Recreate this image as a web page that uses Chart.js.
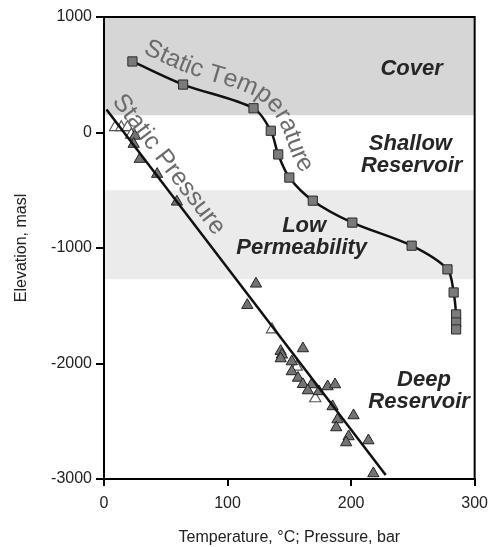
<!DOCTYPE html>
<html>
<head>
<meta charset="utf-8">
<script src="https://cdn.jsdelivr.net/npm/chart.js@4.4.0/dist/chart.umd.min.js"></script>
<style>
  html, body { margin: 0; padding: 0; background: #fff; }
  #wrap { width: 496px; height: 547px; }
</style>
</head>
<body>
<div id="wrap"><canvas id="c" width="496" height="547"></canvas></div>
<script>
// Température statique (carrés)
const tempX = [23, 64, 121, 135, 141, 150, 169, 201, 249, 278, 283, 285, 285, 285];
const tempY = [615, 415, 210, 15, -190, -390, -590, -780, -980, -1185, -1385, -1575, -1645, -1705];

// Pression statique (triangles gris)
const presX = [25, 24, 29, 43, 59, 123, 116, 161, 143, 144, 143, 152, 152, 157, 161, 168, 165, 174, 181, 187, 185, 202, 189, 188, 198, 196, 214, 218];
const presY = [-30, -100, -230, -360, -600, -1310, -1495, -1870, -1893, -1925, -1957, -1983, -2069, -2125, -2180, -2182, -2234, -2242, -2199, -2182, -2372, -2450, -2485, -2554, -2632, -2684, -2667, -2952];

// Pression (triangles blancs)
const presOpenX = [9, 14, 19, 22, 136, 171, 156];
const presOpenY = [45, 45, 45, -20, -1706, -2303, -2030];

// Droite de pression
const presLineX = [2, 228];
const presLineY = [200, -2965];

// Zones
const zoneTop = [1000, -500];
const zoneBottom = [150, -1270];
const zoneColors = ['#d6d6d6', '#ebebeb'];

const xTicks = [0, 100, 200, 300];
const yTicks = [-3000, -2000, -1000, 0, 1000];

const FONT = "'Liberation Sans', Arial, Helvetica, sans-serif";
const EXT = 40; // prolongement du chemin avant le premier point (px)
const STEP = 2; // pas de rééchantillonnage (px)

const toPts = (xs, ys) => xs.map((x, i) => ({ x: x, y: ys[i] }));

// Échantillonner la courbe de Chart.js (points + points de contrôle)
function curvePoints(meta) {
  const d = meta.data;
  const out = [{ x: d[0].x, y: d[0].y }];
  for (let i = 0; i < d.length - 1; i++) {
    const a = d[i], b = d[i + 1];
    const c1x = a.cp2x ?? a.x, c1y = a.cp2y ?? a.y;
    const c2x = b.cp1x ?? b.x, c2y = b.cp1y ?? b.y;
    for (let k = 1; k <= 16; k++) {
      const t = k / 16, u = 1 - t;
      out.push({
        x: u * u * u * a.x + 3 * u * u * t * c1x + 3 * u * t * t * c2x + t * t * t * b.x,
        y: u * u * u * a.y + 3 * u * u * t * c1y + 3 * u * t * t * c2y + t * t * t * b.y
      });
    }
  }
  // prolonger vers l'arrière
  const p0 = out[0], p1 = out[1];
  const L = Math.hypot(p1.x - p0.x, p1.y - p0.y) || 1;
  const dx = (p1.x - p0.x) / L, dy = (p1.y - p0.y) / L;
  return resample([{ x: p0.x - dx * EXT, y: p0.y - dy * EXT }].concat(out));
}

// Points régulièrement espacés le long d'une polyligne
function resample(pts) {
  const out = [pts[0]];
  let carry = 0;
  for (let i = 1; i < pts.length; i++) {
    const a = pts[i - 1], b = pts[i];
    const L = Math.hypot(b.x - a.x, b.y - a.y);
    let s = STEP - carry;
    while (s <= L) {
      out.push({ x: a.x + (b.x - a.x) * s / L, y: a.y + (b.y - a.y) * s / L });
      s += STEP;
    }
    carry = L - (s - STEP);
  }
  return out;
}

// Décaler un chemin du côté haut/droite, puis le lisser
function offsetPath(pts, offset, k) {
  const n = pts.length;
  const off = pts.map((p, i) => {
    const a = pts[Math.max(0, i - k)], b = pts[Math.min(n - 1, i + k)];
    const ang = Math.atan2(b.y - a.y, b.x - a.x);
    return { x: p.x + Math.sin(ang) * offset, y: p.y - Math.cos(ang) * offset };
  });
  return off.map((p, i) => {
    const r = Math.min(k, i, n - 1 - i);
    let sx = 0, sy = 0, c = 0;
    for (let j = i - r; j <= i + r; j++) { sx += off[j].x; sy += off[j].y; c++; }
    return { x: sx / c, y: sy / c };
  });
}

// Texte le long d'un chemin (polyligne en pixels)
function textOnPath(ctx, pts, text, start, win) {
  const cum = [0];
  for (let i = 1; i < pts.length; i++) {
    cum.push(cum[i - 1] + Math.hypot(pts[i].x - pts[i - 1].x, pts[i].y - pts[i - 1].y));
  }
  const at = s => {
    let i = 1;
    while (i < pts.length - 1 && cum[i] < s) i++;
    const a = pts[i - 1], b = pts[i];
    const t = (s - cum[i - 1]) / (cum[i] - cum[i - 1] || 1);
    return { x: a.x + (b.x - a.x) * t, y: a.y + (b.y - a.y) * t };
  };
  let s = start;
  for (const ch of text) {
    const w = ctx.measureText(ch).width;
    const c = s + w / 2;
    const p0 = at(c - win), p1 = at(c + win);
    const ang = Math.atan2(p1.y - p0.y, p1.x - p0.x);
    const p = at(c);
    ctx.save();
    ctx.translate(p.x, p.y);
    ctx.rotate(ang);
    ctx.textAlign = 'center';
    ctx.textBaseline = 'alphabetic';
    ctx.fillText(ch, 0, 0);
    ctx.restore();
    s += w;
  }
}

const bandsPlugin = {
  id: 'bands',
  beforeDraw(chart) {
    const { ctx, chartArea: a, scales: { y } } = chart;
    ctx.save();
    ctx.fillStyle = '#fff';
    ctx.fillRect(0, 0, chart.width, chart.height);
    zoneTop.forEach((top, i) => {
      const y0 = y.getPixelForValue(top);
      const y1 = y.getPixelForValue(zoneBottom[i]);
      ctx.fillStyle = zoneColors[i];
      ctx.fillRect(a.left, y0, a.right - a.left, y1 - y0);
    });
    ctx.restore();
  },
  afterDraw(chart) {
    const { ctx, chartArea: a } = chart;
    ctx.save();
    ctx.strokeStyle = '#000';
    ctx.lineWidth = 2;
    ctx.beginPath();
    ctx.moveTo(a.left, a.top);
    ctx.lineTo(a.right, a.top);
    ctx.lineTo(a.right, a.bottom);
    ctx.stroke();
    ctx.restore();
  }
};

const labelsPlugin = {
  id: 'labels',
  afterDatasetsDraw(chart) {
    const { ctx, scales: { x, y } } = chart;
    ctx.save();
    // zones
    ctx.fillStyle = '#262626';
    ctx.font = "italic bold 22px " + FONT;
    ctx.textAlign = 'center';
    ctx.textBaseline = 'middle';
    const zl = [
      ['Cover', 249, 554],
      ['Shallow', 248, -95],
      ['Reservoir', 249, -286],
      ['Low', 162, -805],
      ['Permeability', 160, -996],
      ['Deep', 259, -2139],
      ['Reservoir', 255, -2329]
    ];
    zl.forEach(([t, vx, vy]) => ctx.fillText(t, x.getPixelForValue(vx), y.getPixelForValue(vy)));

    // textes courbes
    ctx.fillStyle = '#6b6b6b';
    ctx.font = "25px " + FONT;
    const tPath = offsetPath(curvePoints(chart.getDatasetMeta(0)), 12, 8);
    textOnPath(ctx, tPath, 'Static Temperature', EXT + 6, 10);
    const pPath = offsetPath(curvePoints(chart.getDatasetMeta(3)), 9, 8);
    textOnPath(ctx, pPath, 'Static Pressure', EXT - 3, 10);
    ctx.restore();
  }
};

const tickFont = { family: FONT, size: 16 };

new Chart(document.getElementById('c'), {
  type: 'scatter',
  data: {
    datasets: [
      {
        label: 'Static Temperature',
        data: toPts(tempX, tempY),
        showLine: true,
        tension: 0.3,
        borderColor: '#111',
        borderWidth: 2.5,
        pointStyle: 'rect',
        pointRadius: 6.5,
        pointBackgroundColor: '#7a7a7a',
        pointBorderColor: '#2a2a2a',
        pointBorderWidth: 1,
        order: 1
      },
      {
        label: 'Pressure',
        data: toPts(presX, presY),
        pointStyle: 'triangle',
        pointRadius: 6.5,
        pointBackgroundColor: '#737373',
        pointBorderColor: '#222',
        pointBorderWidth: 1,
        order: 3
      },
      {
        label: 'Pressure (open)',
        data: toPts(presOpenX, presOpenY),
        pointStyle: 'triangle',
        pointRadius: 6.5,
        pointBackgroundColor: '#fff',
        pointBorderColor: '#555',
        pointBorderWidth: 1.2,
        order: 4
      },
      {
        label: 'Static Pressure',
        data: toPts(presLineX, presLineY),
        showLine: true,
        borderColor: '#111',
        borderWidth: 2.5,
        pointRadius: 0,
        order: 2
      }
    ]
  },
  options: {
    responsive: false,
    animation: false,
    devicePixelRatio: 1,
    layout: { padding: { top: 17, right: 20, left: 0, bottom: 0 } },
    plugins: { legend: { display: false }, tooltip: { enabled: false } },
    scales: {
      x: {
        type: 'linear',
        min: 0,
        max: 300,
        afterBuildTicks: s => { s.ticks = xTicks.map(v => ({ value: v })); },
        afterFit: s => { s.height = 68; },
        ticks: { color: '#222', font: tickFont, padding: 8, callback: v => String(v) },
        grid: { drawOnChartArea: false, tickLength: 7, color: '#000', lineWidth: 2 },
        border: { color: '#000', width: 2 },
        title: { display: true, text: 'Temperature, °C; Pressure, bar', color: '#222', font: tickFont, padding: { top: 0, bottom: 0 } }
      },
      y: {
        type: 'linear',
        min: -3000,
        max: 1000,
        afterBuildTicks: s => { s.ticks = yTicks.map(v => ({ value: v })); },
        afterFit: s => { s.width = 104; },
        ticks: { color: '#222', font: tickFont, padding: 4, callback: v => String(v) },
        grid: { drawOnChartArea: false, tickLength: 8, color: '#000', lineWidth: 2 },
        border: { color: '#000', width: 2 },
        title: { display: true, text: 'Elevation, masl', color: '#222', font: tickFont, padding: { top: 12, bottom: 0 } }
      }
    }
  },
  plugins: [bandsPlugin, labelsPlugin]
});
</script>
</body>
</html>
